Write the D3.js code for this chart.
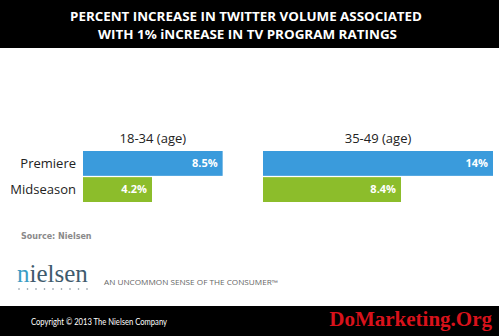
<!DOCTYPE html>
<html>
<head>
<meta charset="utf-8">
<script src="https://cdn.jsdelivr.net/npm/d3@7"></script>
<style>
  body { margin: 0; background: #fff; }
  svg { display: block; }
</style>
</head>
<body>
<script>
// chart values
var groups = ["18-34 (age)", "35-49 (age)"];
var seasons = ["Premiere", "Midseason"];
var premiere = [8.5, 14];
var midseason = [4.2, 8.4];
var titleLines = ["PERCENT INCREASE IN TWITTER VOLUME ASSOCIATED",
                  "WITH 1% iNCREASE IN TV PROGRAM RATINGS"];

var width = 499,
    height = 336;

var svg = d3.select("body")
    .append("svg")
    .attr("width", width)
    .attr("height", height);

// black header band with the title
svg.append("rect")
    .attr("width", width)
    .attr("height", 48)
    .attr("fill", "#000");

svg.selectAll(".title")
    .data(titleLines)
    .enter()
    .append("text")
    .attr("class", "title")
    .attr("x", function(d, i){ return i == 0 ? 70 : 98; })
    .attr("y", function(d, i){ return 21 + i * 18; })
    .attr("textLength", function(d, i){ return i == 0 ? 352 : 299; })
    .attr("lengthAdjust", "spacingAndGlyphs")
    .attr("fill", "#fff")
    .style("font", "bold 12px 'Open Sans', sans-serif")
    .text(function(d){ return d; });

// scales shared by both panels
var x = d3.scaleLinear()
    .domain([0, 14])
    .range([0, 230]);

var y = d3.scaleBand()
    .domain(seasons)
    .range([151, 202])
    .paddingInner(0.05);

var panelX = d3.scaleOrdinal()
    .domain(groups)
    .range([83, 263]);

var colors = d3.scaleOrdinal()
    .domain(seasons)
    .range(["#3a9bdc", "#8cbd2b"]);

// row labels on the left
svg.selectAll(".season")
    .data(seasons)
    .enter()
    .append("text")
    .attr("class", "season")
    .attr("x", 76)
    .attr("y", function(d){ return y(d) + y.bandwidth() / 2; })
    .attr("dy", "0.35em")
    .attr("text-anchor", "end")
    .attr("fill", "#222")
    .style("font", "13px 'Open Sans', sans-serif")
    .text(function(d){ return d; });

groups.forEach(function(g, gi){
    var x0 = panelX(g);
    var values = [premiere[gi], midseason[gi]];
    var panel = svg.append("g")
        .attr("transform", "translate(" + x0 + ",0)");

    // panel heading centred above the premiere bar
    panel.append("text")
        .attr("x", x(premiere[gi]) / 2)
        .attr("y", 143)
        .attr("text-anchor", "middle")
        .attr("fill", "#222")
        .style("font", "13px 'Open Sans', sans-serif")
        .text(g);

    panel.selectAll(".bar")
        .data(values)
        .enter()
        .append("rect")
        .attr("class", "bar")
        .attr("x", 0)
        .attr("y", function(d, i){ return y(seasons[i]); })
        .attr("width", function(d){ return x(d); })
        .attr("height", y.bandwidth())
        .attr("fill", function(d, i){ return colors(seasons[i]); });

    panel.selectAll(".value")
        .data(values)
        .enter()
        .append("text")
        .attr("class", "value")
        .attr("x", function(d){ return x(d) - 5; })
        .attr("y", function(d, i){ return y(seasons[i]) + y.bandwidth() / 2; })
        .attr("dy", "0.35em")
        .attr("text-anchor", "end")
        .attr("fill", "#fff")
        .style("font", "bold 11px 'Open Sans', sans-serif")
        .text(function(d){ return d + "%"; });
});

// source note
svg.append("text")
    .attr("x", 21)
    .attr("y", 239)
    .attr("fill", "#8a8a8a")
    .style("font", "bold 8px 'DejaVu Sans', sans-serif")
    .text("Source: Nielsen");

// nielsen logo, first letter in the lighter blue
var logo = svg.append("text")
    .attr("x", 17)
    .attr("y", 282)
    .style("font", "25px 'Liberation Serif', serif");
logo.append("tspan").attr("fill", "#3a9cc4").text("n");
logo.append("tspan").attr("fill", "#3f5b6d").text("ielsen");

svg.selectAll(".dot")
    .data(d3.range(9))
    .enter()
    .append("circle")
    .attr("class", "dot")
    .attr("cx", function(d){ return 19 + d * 8.5; })
    .attr("cy", 289)
    .attr("r", 0.8)
    .attr("fill", "#7a8a96");

svg.append("text")
    .attr("x", 104)
    .attr("y", 285)
    .attr("textLength", 174)
    .attr("lengthAdjust", "spacingAndGlyphs")
    .attr("fill", "#666")
    .style("font", "6.5px 'Open Sans', sans-serif")
    .text("AN UNCOMMON SENSE OF THE CONSUMER\u2122");

// footer band
svg.append("rect")
    .attr("y", 306)
    .attr("width", width)
    .attr("height", height - 306)
    .attr("fill", "#000");

svg.append("text")
    .attr("x", 31)
    .attr("y", 325)
    .attr("textLength", 136)
    .attr("lengthAdjust", "spacingAndGlyphs")
    .attr("fill", "#fff")
    .style("font", "8.5px Lato, sans-serif")
    .text("Copyright \u00a9 2013 The Nielsen Company");

svg.append("text")
    .attr("x", 492)
    .attr("y", 326)
    .attr("text-anchor", "end")
    .attr("fill", "#d8121b")
    .style("font", "bold 21px 'Liberation Serif', serif")
    .text("DoMarketing.Org");
</script>
</body>
</html>
